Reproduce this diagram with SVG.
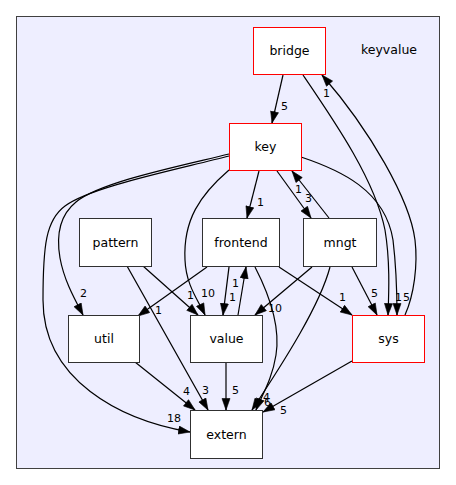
<svg xmlns="http://www.w3.org/2000/svg" width="456" height="485" viewBox="0 0 456 485">
<style>
.cl{fill:#eeeeff;stroke:#404040;stroke-width:1}
.n{fill:#ffffff;stroke:#303030;stroke-width:1}
.r{fill:#ffffff;stroke:#ff0000;stroke-width:1}
.t{font-family:"DejaVu Sans",sans-serif;font-size:12.5px;text-anchor:middle;fill:#000}
.e path{fill:none;stroke:#000;stroke-width:1.2;marker-end:url(#a)}
.l{font-family:"DejaVu Sans",sans-serif;font-size:11px;fill:#000}
</style>
<defs>
<marker id="a" markerUnits="userSpaceOnUse" markerWidth="13" markerHeight="10" viewBox="0 0 13 10" refX="12" refY="4.5" orient="auto">
<path d="M0.5,0.5 L12,4.5 L0.5,8.5 z" fill="#000" stroke="#000" stroke-width="0.6"/>
</marker>
</defs>
<rect width="456" height="485" fill="#ffffff"/>
<g id="cluster_keyvalue">
<rect class="cl" x="16.5" y="16.5" width="423" height="452"/>
<text class="t" x="389" y="54">keyvalue</text>
</g>
<g class="e" id="edges">
<path d="M283,75 L272,123"/>
<path d="M303,75 C335,122 375,180 385,230 C390,260 389,290 388,315"/>
<path d="M405,315 C414,295 418,265 415,240 C410,200 370,130 322,75"/>
<path d="M259,171 L247,218"/>
<path d="M277,171 L311,218"/>
<path d="M329,218 L292,171"/>
<path d="M229,154 C180,166 100,182 76,202 C60,215 56,235 60,258 C64,280 74,298 83,315"/>
<path d="M229,156 C175,170 90,187 65,206 C46,220 43,245 43,300 C43,380 120,420 190,432"/>
<path d="M229,170 C200,195 183,220 185,260 C186,285 198,300 205,315"/>
<path d="M301,157 C340,170 385,190 393,240 C396,265 397,290 397,315"/>
<path d="M143,266 L198,315"/>
<path d="M127,266 L208,410"/>
<path d="M207,267 L138,316"/>
<path d="M229,267 L223,315"/>
<path d="M238,315 L246,267"/>
<path d="M255,267 C272,300 280,330 276,355 C272,380 262,395 256,410"/>
<path d="M279,267 L352,315"/>
<path d="M312,267 L255,315"/>
<path d="M330,267 C320,305 285,360 252,410"/>
<path d="M352,267 L377,315"/>
<path d="M135,362 L195,410"/>
<path d="M226,362 L226,410"/>
<path d="M352,361 L263,412"/>
</g>
<g id="edge_labels">
<text class="l" x="281" y="110">5</text>
<text class="l" x="395" y="301">1</text>
<text class="l" x="323" y="97">1</text>
<text class="l" x="257" y="206">1</text>
<text class="l" x="305" y="202">3</text>
<text class="l" x="295" y="193">1</text>
<text class="l" x="80" y="297">2</text>
<text class="l" x="167" y="422">18</text>
<text class="l" x="201" y="297">10</text>
<text class="l" x="403" y="301">5</text>
<text class="l" x="187" y="299">1</text>
<text class="l" x="202" y="394">3</text>
<text class="l" x="155" y="314">1</text>
<text class="l" x="229" y="301">1</text>
<text class="l" x="232" y="287">1</text>
<text class="l" x="264" y="406">6</text>
<text class="l" x="339" y="301">1</text>
<text class="l" x="268" y="312">10</text>
<text class="l" x="263" y="401">4</text>
<text class="l" x="371" y="297">5</text>
<text class="l" x="183" y="395">4</text>
<text class="l" x="232" y="394">5</text>
<text class="l" x="280" y="414">5</text>
</g>
<g id="bridge"><rect class="r" x="253.5" y="27.5" width="72" height="47"/><text class="t" x="289.5" y="55">bridge</text></g>
<g id="key"><rect class="r" x="229.5" y="123.5" width="72" height="47"/><text class="t" x="265.5" y="151">key</text></g>
<g id="pattern"><rect class="n" x="79.5" y="218.5" width="72" height="48"/><text class="t" x="115.5" y="246.5">pattern</text></g>
<g id="frontend"><rect class="n" x="202.5" y="218.5" width="77" height="48"/><text class="t" x="241" y="246.5">frontend</text></g>
<g id="mngt"><rect class="n" x="303.5" y="218.5" width="73" height="48"/><text class="t" x="340" y="246.5">mngt</text></g>
<g id="util"><rect class="n" x="68.5" y="315.5" width="71" height="47"/><text class="t" x="104" y="343">util</text></g>
<g id="value"><rect class="n" x="190.5" y="315.5" width="72" height="47"/><text class="t" x="226.5" y="343">value</text></g>
<g id="sys"><rect class="r" x="352.5" y="315.5" width="72" height="47"/><text class="t" x="388.5" y="343">sys</text></g>
<g id="extern"><rect class="n" x="190.5" y="410.5" width="72" height="48"/><text class="t" x="226.5" y="438.5">extern</text></g>
</svg>
